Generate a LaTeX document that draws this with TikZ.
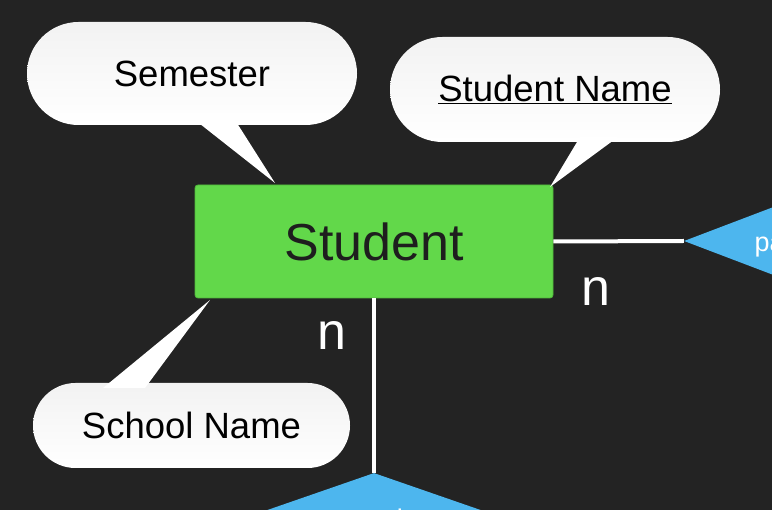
\documentclass[tikz,border=0pt]{standalone}
\usepackage{fontspec}
\setmainfont{Liberation Sans}
\usetikzlibrary{shapes.misc,shapes.geometric}
\definecolor{bgc}{HTML}{232323}
\definecolor{entgreen}{HTML}{62D84A}
\definecolor{entborder}{HTML}{4FB83A}
\definecolor{relblue}{HTML}{4DB6EE}
\definecolor{txtdark}{HTML}{1E1E1E}
\tikzset{
  pill/.style={rounded rectangle, top color=black!5, bottom color=white, draw=none, inner sep=0pt, font=\fontsize{36.5}{40}\selectfont, text=black},
  tail/.style={fill=white, draw=none},
  entity/.style={rectangle, rounded corners=3pt, fill=entgreen, draw=entborder, line width=0.8pt, inner sep=0pt, font=\fontsize{52}{58}\selectfont, text=txtdark},
  rel/.style={diamond, fill=relblue, draw=none, inner sep=0pt},
  link/.style={draw=white, line width=4pt},
  card/.style={text=white, font=\fontsize{52}{58}\selectfont},
  reltext/.style={text=white, font=\fontsize{27}{30}\selectfont}
}
\begin{document}
\begin{tikzpicture}[x=1pt,y=-1pt]
\useasboundingbox (0,0) rectangle (772,510);
\clip (0,0) rectangle (772,510);
\fill[bgc] (0,0) rectangle (772,510);

% entity
\node[entity, minimum width=358pt, minimum height=113pt] (student) at (374,241.5) {Student};

% relationship diamonds
\node[rel, minimum width=360pt, minimum height=137pt] (rright) at (864,241) {};
\node[rel, minimum width=600pt, minimum height=208pt] (rbottom) at (374,577) {};
\node[reltext, anchor=base west] (rrtext) at (751,252) {pays};
\node[reltext, anchor=base] (rbtext) at (372,529) {attends};

% connectors
\draw[link] (student.east) -- (rright.west);
\draw[link] (student.south) -- (rbottom.north);
\node[card] (n1) at (596,292) {n};
\node[card] (n2) at (332,336) {n};

% callouts
\node[pill, minimum width=330pt, minimum height=103pt] (sem) at (192,73.5) {Semester};
\coordinate (semtip) at (275,183);
\fill[tail] (195,120) -- (235,120) -- (semtip) -- cycle;

\node[pill, minimum width=330pt, minimum height=105pt] (sname) at (555,89.5) {\underline{Student Name}};
\coordinate (snametip) at (550,187);
\fill[tail] (580,137) -- (618,137) -- (snametip) -- cycle;

\node[pill, minimum width=317pt, minimum height=85pt] (school) at (191.5,425.5) {School Name};
\coordinate (schooltip) at (210,300);
\fill[tail] (103,388) -- (145,388) -- (schooltip) -- cycle;
\end{tikzpicture}
\end{document}
